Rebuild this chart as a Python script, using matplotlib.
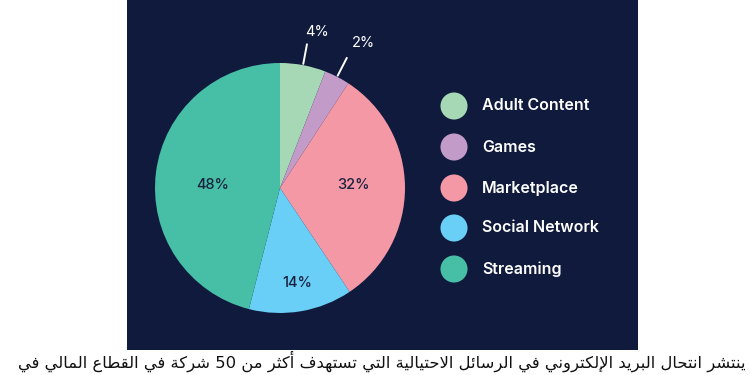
import re
import numpy as np
import matplotlib
matplotlib.use("Agg")
import matplotlib.pyplot as plt
from matplotlib.patches import Rectangle

# ---------------------------------------------------------------------------
# DATA
# ---------------------------------------------------------------------------
categories = ["Adult Content", "Games", "Marketplace", "Social Network", "Streaming"]
shares = [5.9, 3.3, 31.4, 13.4, 46.0]          # wedge sizes as drawn
share_labels = ["4%", "2%", "32%", "14%", "48%"]  # labels as printed
colors = ["#a6d8b5", "#c39bc9", "#f598a6", "#69cff6", "#47bfa6"]

caption = ("ينتشر انتحال البريد الإلكتروني في الرسائل الاحتيالية التي تستهدف "
           "أكثر من 50 شركة في القطاع المالي في")

# ---------------------------------------------------------------------------
# tiny arabic shaper (matplotlib does no shaping / RTL)
# ---------------------------------------------------------------------------
AR_LETTERS = "ءآأؤإئابةتثجحخدذرزسشصضطظعغفقكلمنهوىي"
AR_NFORMS = [1, 2, 2, 2, 2, 4, 2, 4, 2, 4, 4, 4, 4, 4, 2, 2, 2, 2,
             4, 4, 4, 4, 4, 4, 4, 4, 4, 4, 4, 4, 4, 4, 4, 2, 2, 4]
AR_FORMS = {}
code = 0xFE80
for ch, n in zip(AR_LETTERS, AR_NFORMS):
    AR_FORMS[ch] = (code, n)
    code += n
LAM_ALEF = {"آ": 0xFEF5, "أ": 0xFEF7, "إ": 0xFEF9, "ا": 0xFEFB}


def shape_arabic(text):
    out = []
    i = 0
    prev_joins = False
    while i < len(text):
        c = text[i]
        if c not in AR_FORMS:
            out.append(c)
            prev_joins = False
            i += 1
            continue
        nxt = text[i + 1] if i + 1 < len(text) else ""
        if c == "ل" and nxt in LAM_ALEF:
            out.append(chr(LAM_ALEF[nxt] + (1 if prev_joins else 0)))
            prev_joins = False
            i += 2
            continue
        base, n = AR_FORMS[c]
        joins_next = n == 4 and nxt in AR_FORMS and nxt != "ء"
        if n == 1:
            form = 0
        elif prev_joins and joins_next:
            form = 3
        elif prev_joins:
            form = 1
        elif joins_next:
            form = 2
        else:
            form = 0
        out.append(chr(base + form))
        prev_joins = joins_next
        i += 1
    vis = "".join(out)[::-1]
    return re.sub(r"\d+", lambda m: m.group(0)[::-1], vis)


# ---------------------------------------------------------------------------
# PLOT
# ---------------------------------------------------------------------------
W, H = 750, 375
fig = plt.figure(figsize=(7.5, 3.75), dpi=100)
fig.patch.set_facecolor("white")
ax = fig.add_axes([0, 0, 1, 1])

#- navy panel
ax.add_patch(Rectangle((127, H - 350), 511, 350, facecolor="#0f1a3c",
                       edgecolor="none", zorder=0))

cx, cy, R = 280, H - 188, 125
wedges, _ = ax.pie(shares, colors=colors, startangle=90, counterclock=False,
                   center=(cx, cy), radius=R, frame=True,
                   wedgeprops=dict(linewidth=0))
ax.set_xlim(0, W)
ax.set_ylim(0, H)
ax.set_aspect("auto")
ax.axis("off")

#- label placement: radius (in R) and angle nudge (deg) per wedge
label_r = [1.28, 1.34, 0.585, 0.77, 0.54]
label_dang = [-2.6, -2.6, 1.9, 0.8, 4.4]
for w, lab, r, da in zip(wedges, share_labels, label_r, label_dang):
    mid = np.deg2rad((w.theta1 + w.theta2) / 2)
    dx, dy = np.cos(mid), np.sin(mid)
    tm = mid + np.deg2rad(da)
    tx, ty = cx + r * R * np.cos(tm), cy + r * R * np.sin(tm)
    if r > 1:
        ax.plot([cx + 1.01 * R * dx, cx + 1.17 * R * dx],
                [cy + 1.01 * R * dy, cy + 1.17 * R * dy],
                color="white", lw=1.4, solid_capstyle="round")
        ax.text(tx, ty, lab, color="white", fontsize=10.5, family="Inter",
                ha="center", va="center")
    else:
        ax.text(tx, ty, lab, color="#1b2240", fontsize=10.5, family="Inter",
                fontweight="medium", ha="center", va="center")

#- legend
leg_y = [106, 147, 188, 228, 269]
for ly, cat, col in zip(leg_y, categories, colors):
    ax.scatter([454], [H - ly], s=380, color=col, edgecolors="none")
    ax.text(482, H - ly, cat, color="white", fontsize=11.5, family="Inter",
            fontweight="semibold", ha="left", va="center")

#- caption under the panel
ax.text(746, H - 368, shape_arabic(caption), color="#111111", fontsize=11.8,
        family="DejaVu Sans", ha="right", va="baseline")

fig.savefig("out.png", dpi=100)
